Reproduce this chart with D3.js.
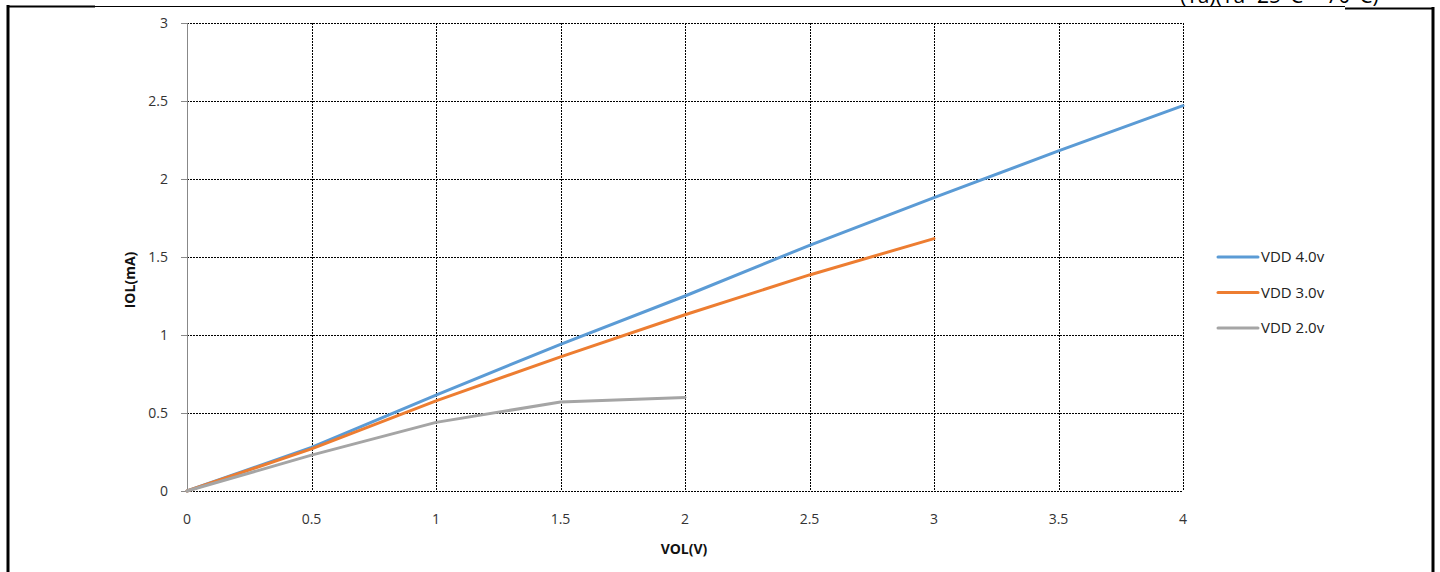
<!DOCTYPE html>
<html>
<head>
<meta charset="utf-8">
<script src="https://cdn.jsdelivr.net/npm/d3@7"></script>
<style>
  body { margin: 0; background: #fff; }
  svg { display: block; font-family: "Open Sans", "Liberation Sans", sans-serif; }
</style>
</head>
<body>
<div id="chart"></div>
<script>
// data
const vol = [0, 0.5, 1, 1.5, 2, 2.5, 3, 3.5, 4];
const vdd40 = [0, 0.28, 0.615, 0.94, 1.25, 1.575, 1.88, 2.18, 2.47];
const vdd30 = [0, 0.27, 0.578, 0.86, 1.13, 1.385, 1.618];
const vdd20 = [0, 0.23, 0.44, 0.57, 0.60];
const seriesNames = ["VDD 4.0v", "VDD 3.0v", "VDD 2.0v"];
const seriesColors = ["#5B9BD5", "#ED7D31", "#A5A5A5"];
const xTicks = [0, 0.5, 1, 1.5, 2, 2.5, 3, 3.5, 4];
const yTicks = [0, 0.5, 1, 1.5, 2, 2.5, 3];

const width = 1440, height = 572;
const svg = d3.select("#chart").append("svg")
    .attr("width", width)
    .attr("height", height);

// outer frame
svg.append("line").attr("x1", 8).attr("x2", 8).attr("y1", 5).attr("y2", height)
    .attr("stroke", "#000").attr("stroke-width", 3);
svg.append("line").attr("x1", 7).attr("x2", 95).attr("y1", 6.5).attr("y2", 6.5)
    .attr("stroke", "#000").attr("stroke-width", 2);
svg.append("line").attr("x1", 95).attr("x2", 1345).attr("y1", 6.5).attr("y2", 6.5)
    .attr("stroke", "#000").attr("stroke-width", 1);
svg.append("line").attr("x1", 1345).attr("x2", 1434).attr("y1", 8.5).attr("y2", 8.5)
    .attr("stroke", "#000").attr("stroke-width", 2);
svg.append("line").attr("x1", 1433).attr("x2", 1433).attr("y1", 7).attr("y2", height)
    .attr("stroke", "#000").attr("stroke-width", 3);

// heading above the frame, cut by the top edge as in the source page
svg.append("text")
    .attr("x", 1180).attr("y", 3)
    .attr("font-size", 21)
    .attr("fill", "#000")
    .text("(Ta)(Ta=25°C ~ 70°C)");

const x = d3.scaleLinear().domain([0, 4]).range([187, 1183]);
const y = d3.scaleLinear().domain([0, 3]).range([491, 23]);

// grid
const grid = svg.append("g");
grid.selectAll("line.h").data(yTicks).enter().append("line")
    .attr("x1", x(0)).attr("x2", x(4))
    .attr("y1", d => Math.round(y(d)) + 0.5).attr("y2", d => Math.round(y(d)) + 0.5)
    .attr("stroke", "#000").attr("stroke-width", 1)
    .attr("stroke-dasharray", "2,1");
grid.selectAll("line.v").data(xTicks.filter(d => d > 0)).enter().append("line")
    .attr("x1", d => Math.round(x(d)) + 0.5).attr("x2", d => Math.round(x(d)) + 0.5)
    .attr("y1", y(3)).attr("y2", y(0))
    .attr("stroke", "#000").attr("stroke-width", 1)
    .attr("stroke-dasharray", "2,1");

// y axis line + small ticks
svg.append("line")
    .attr("x1", x(0) + 0.5).attr("x2", x(0) + 0.5)
    .attr("y1", y(3)).attr("y2", y(0))
    .attr("stroke", "#888");
svg.append("g").selectAll("line").data(yTicks).enter().append("line")
    .attr("x1", x(0) - 6).attr("x2", x(0))
    .attr("y1", d => Math.round(y(d)) + 0.5).attr("y2", d => Math.round(y(d)) + 0.5)
    .attr("stroke", "#888");

// y tick labels
svg.append("g").selectAll("text").data(yTicks).enter().append("text")
    .attr("x", 168)
    .attr("y", d => y(d) + 5)
    .attr("text-anchor", "end")
    .attr("font-size", 14)
    .attr("fill", "#333")
    .text(d => d);

// x tick labels
svg.append("g").selectAll("text").data(xTicks).enter().append("text")
    .attr("x", d => x(d))
    .attr("y", 524)
    .attr("text-anchor", "middle")
    .attr("font-size", 14)
    .attr("fill", "#333")
    .text(d => d);

// axis titles
svg.append("text")
    .attr("x", 684).attr("y", 554)
    .attr("text-anchor", "middle")
    .attr("font-size", 14).attr("font-weight", "bold")
    .attr("fill", "#111")
    .text("VOL(V)");
svg.append("text")
    .attr("transform", `translate(135,280) rotate(-90)`)
    .attr("text-anchor", "middle")
    .attr("font-size", 14).attr("font-weight", "bold")
    .attr("fill", "#111")
    .text("IOL(mA)");

// lines
const series = [vdd40, vdd30, vdd20];
const line = d3.line()
    .x((d, i) => x(vol[i]))
    .y(d => y(d));
svg.append("g").selectAll("path").data(series).enter().append("path")
    .attr("d", d => line(d))
    .attr("fill", "none")
    .attr("stroke", (d, i) => seriesColors[i])
    .attr("stroke-width", 3)
    .attr("stroke-linejoin", "round")
    .attr("stroke-linecap", "round");

// legend
const legend = svg.append("g").selectAll("g").data(seriesNames).enter().append("g")
    .attr("transform", (d, i) => `translate(1218,${257 + i * 35.5})`);
legend.append("line")
    .attr("x1", 0).attr("x2", 40)
    .attr("stroke", (d, i) => seriesColors[i])
    .attr("stroke-width", 3)
    .attr("stroke-linecap", "round");
legend.append("text")
    .attr("x", 43).attr("y", 5)
    .attr("font-size", 15)
    .attr("fill", "#222")
    .text(d => d);
</script>
</body>
</html>
